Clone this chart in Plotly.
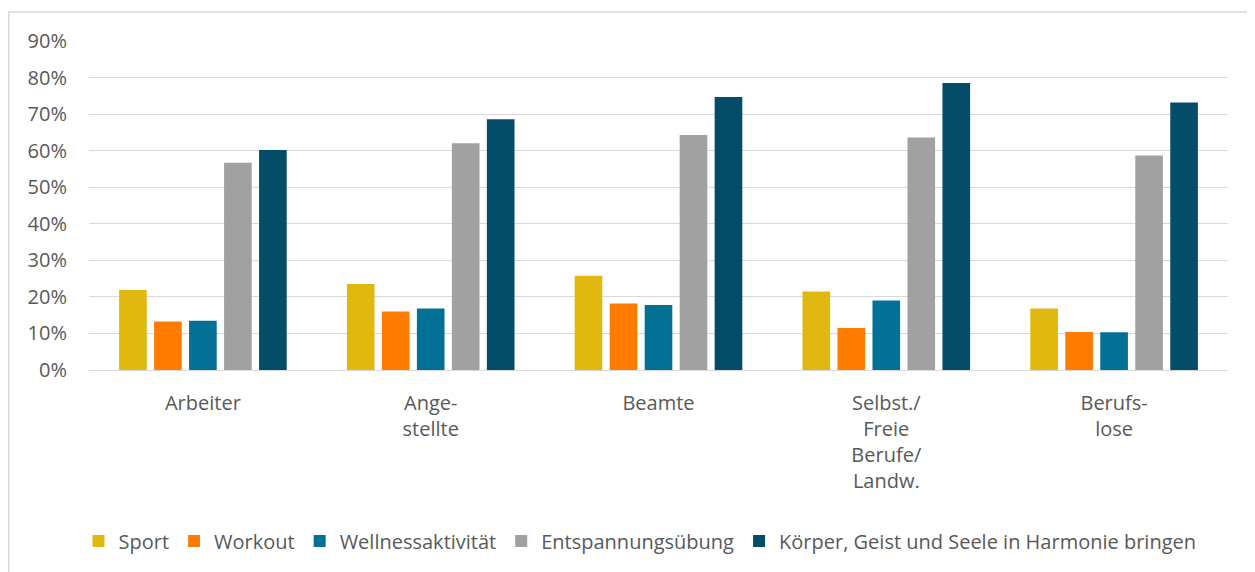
import plotly.graph_objects as go

categories = ["Arbeiter", "Ange-<br>stellte", "Beamte", "Selbst./<br>Freie<br>Berufe/<br>Landw.", "Berufs-<br>lose"]
series_names = ["Sport", "Workout", "Wellnessaktivität", "Entspannungsübung",
                "Körper, Geist und Seele in Harmonie bringen"]
sport = [0.219, 0.235, 0.258, 0.215, 0.168]
workout = [0.133, 0.160, 0.182, 0.115, 0.104]
wellness = [0.135, 0.168, 0.178, 0.190, 0.103]
entspannung = [0.567, 0.620, 0.643, 0.636, 0.587]
koerper = [0.602, 0.686, 0.747, 0.785, 0.732]
colors = ["#E1B80F", "#FF7C00", "#037095", "#A1A1A1", "#034D69"]
tick_vals = [0, 0.1, 0.2, 0.3, 0.4, 0.5, 0.6, 0.7, 0.8, 0.9]
tick_text = ["0%", "10%", "20%", "30%", "40%", "50%", "60%", "70%", "80%", "90%"]

fig = go.Figure()
for name, vals, col in zip(series_names, [sport, workout, wellness, entspannung, koerper], colors):
    fig.add_trace(go.Bar(name=name, x=categories, y=vals, marker_color=col,
                         marker_line_width=0))

font = dict(family="Open Sans", size=20, color="#595959")
OFF = 8  # page body margin
W, H = 1255 - OFF, 572 - OFF
L, R, T, B = 89 - OFF, 27, 41 - OFF, 202
pw, ph = W - L - R, H - T - B

def px_x(px):  # viewport pixel -> paper
    return (px - OFF - L) / pw

def px_y(py):
    return (H - B - (py - OFF)) / ph

fig.update_layout(
    width=W, height=H,
    margin=dict(l=L, r=R, t=T, b=B),
    plot_bgcolor="white", paper_bgcolor="white",
    barmode="group", bargap=0.232, bargroupgap=0.21,
    font=font,
    showlegend=True,
    legend=dict(orientation="h", x=px_x(640), xanchor="center", y=px_y(541), yanchor="middle",
                font=dict(family="Open Sans", size=20, color="#595959"),
                itemwidth=30, tracegroupgap=0, itemclick=False),
    xaxis=dict(showgrid=False, showline=False, ticks="", ticklabelstandoff=19,
               tickfont=font, fixedrange=True),
    yaxis=dict(range=[0, 0.9], tickvals=tick_vals, ticktext=tick_text, showgrid=True,
               gridcolor="#D9D9D9", gridwidth=1.3, zeroline=True, zerolinecolor="#D9D9D9",
               zerolinewidth=1.3, showline=False, ticks="", ticklabelstandoff=21,
               tickfont=font, fixedrange=True),
    shapes=[dict(type="rect", xref="paper", yref="paper",
                 x0=px_x(8.8), x1=px_x(1265), y0=px_y(12), y1=px_y(590),
                 line=dict(color="#D9D9D9", width=1.5), fillcolor="rgba(0,0,0,0)", layer="below")],
)

fig.write_html("out.html")
